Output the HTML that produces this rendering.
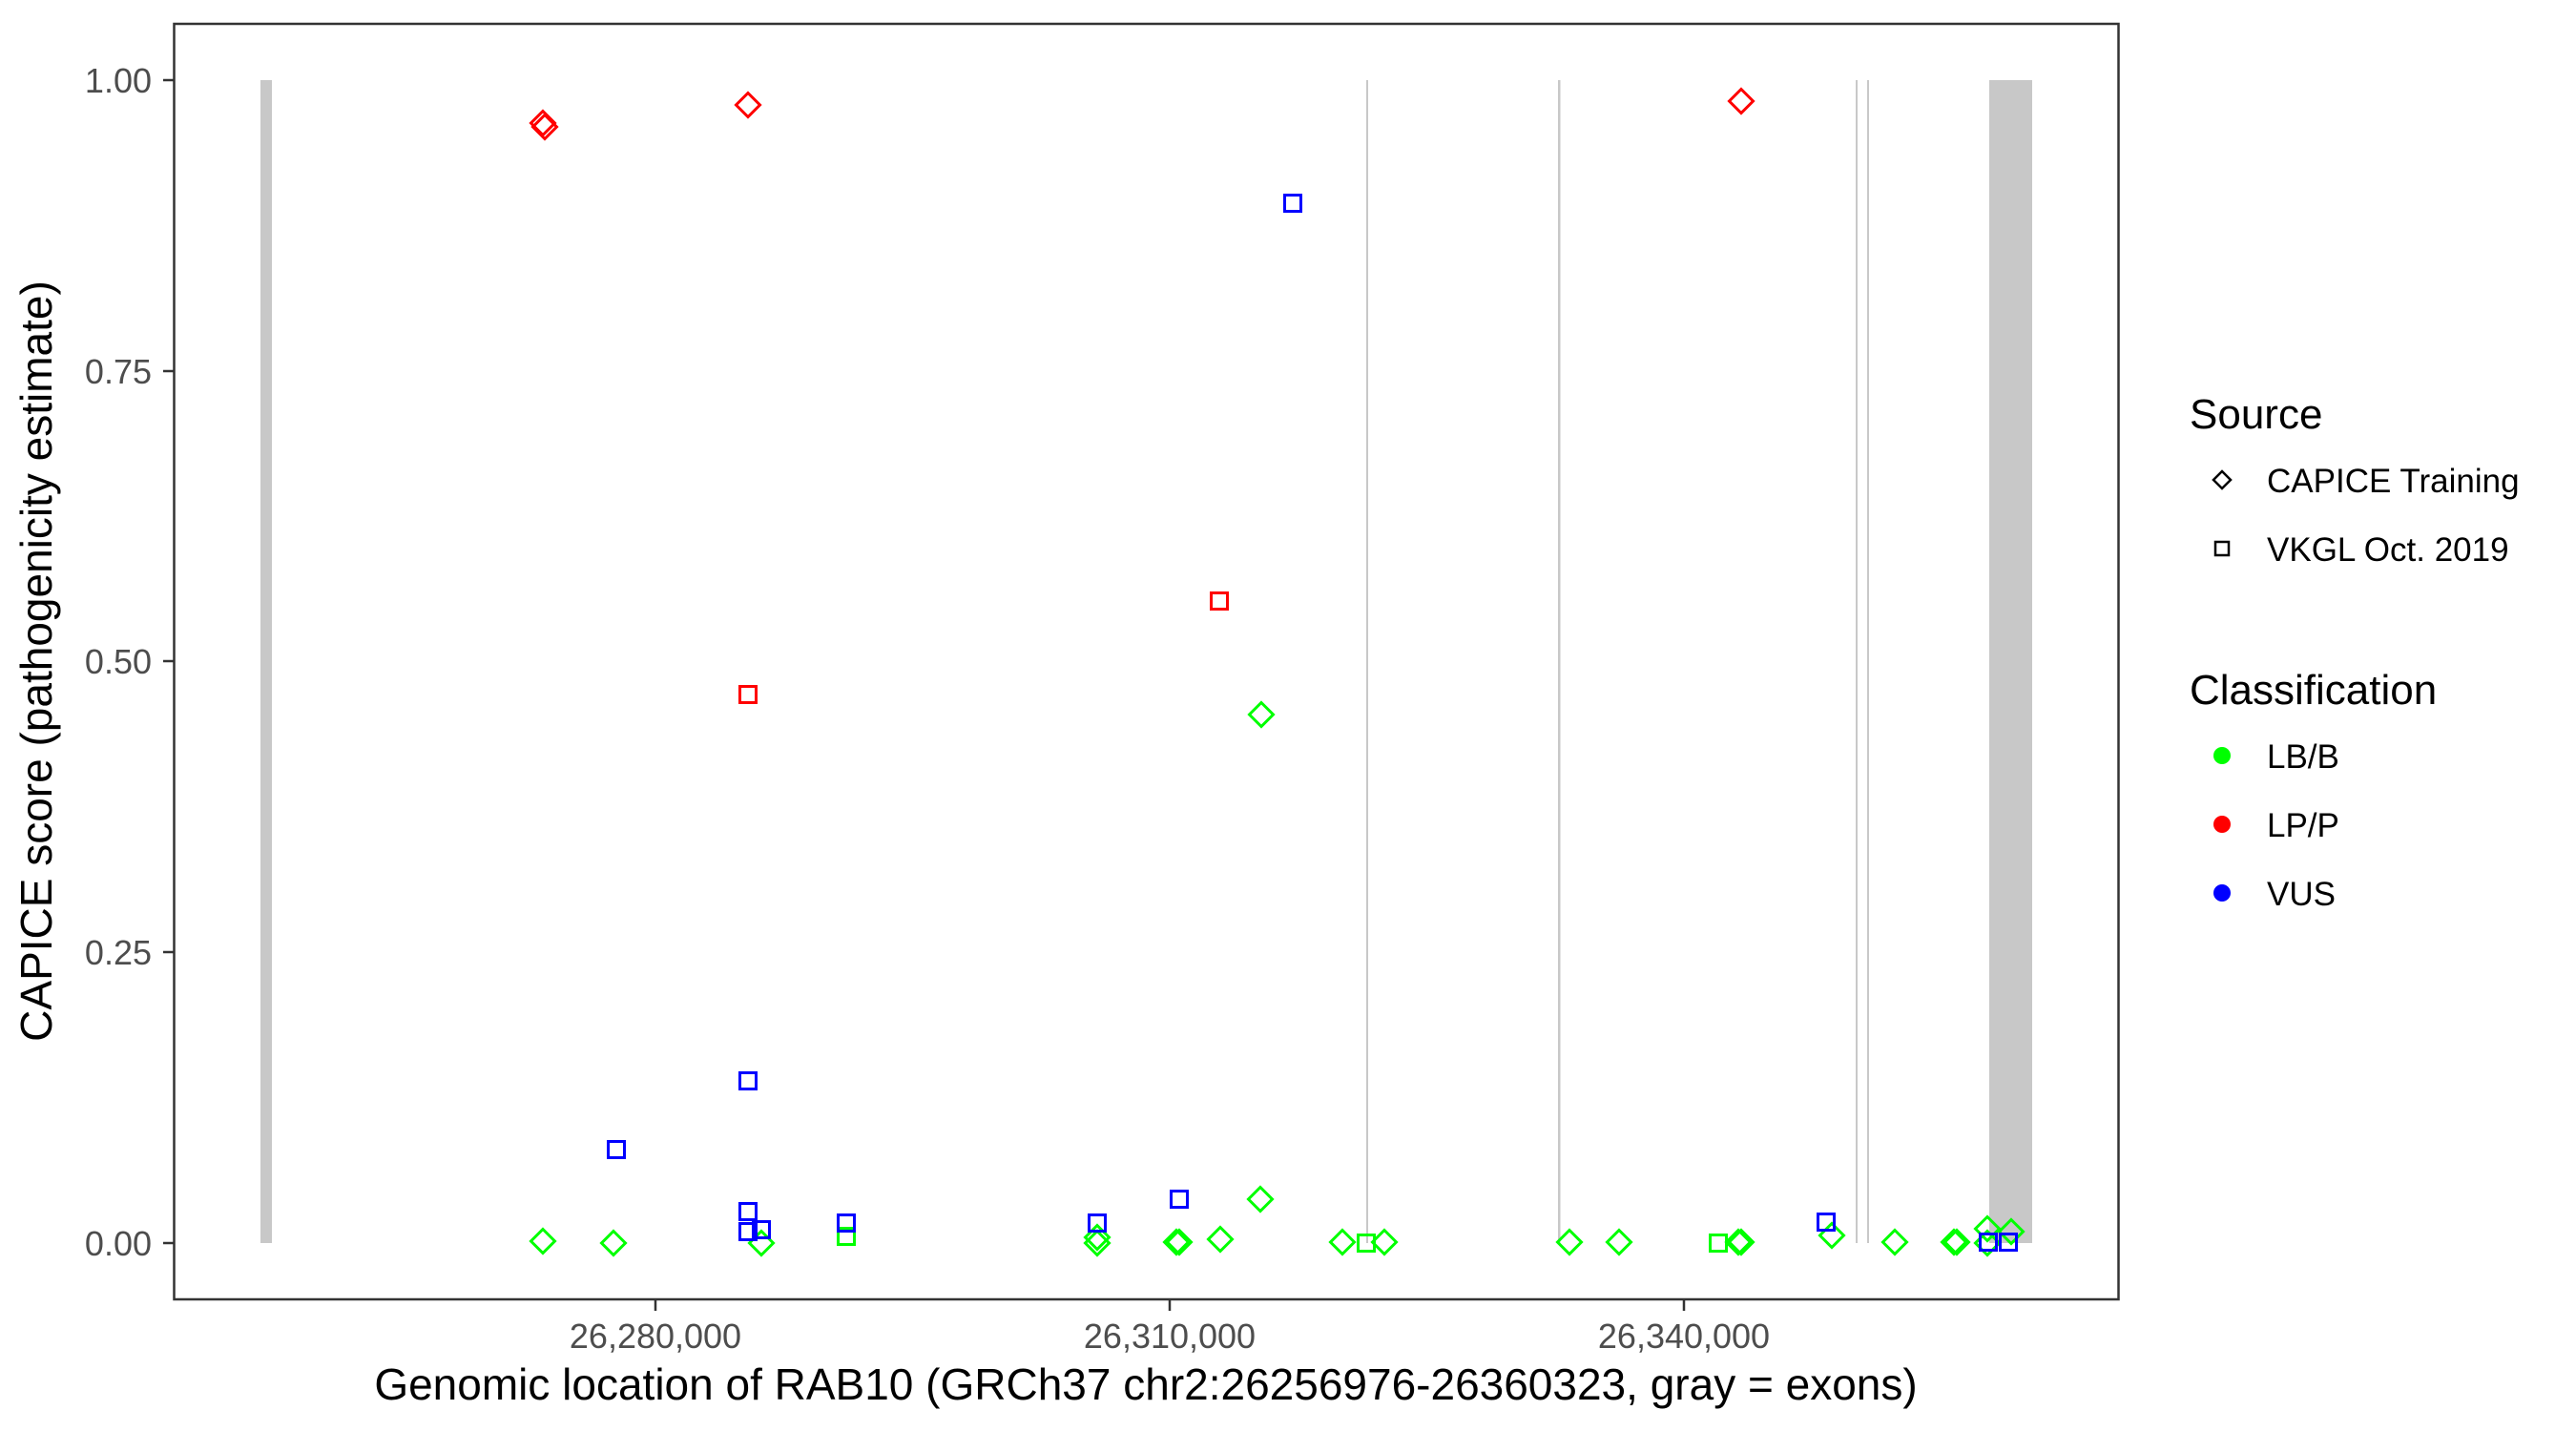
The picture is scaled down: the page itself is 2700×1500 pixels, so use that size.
<!DOCTYPE html>
<html><head><meta charset="utf-8"><style>html,body{margin:0;padding:0;background:#fff}svg{display:block}</style></head>
<body>
<svg width="2700" height="1500" viewBox="0 0 2700 1500" xmlns="http://www.w3.org/2000/svg" font-family="Liberation Sans, sans-serif">
<rect width="2700" height="1500" fill="#fff"/>
<defs>
<path id="d" d="M0,-12.5 L12.5,0 L0,12.5 L-12.5,0 Z" fill="none" stroke-width="3"/>
<rect id="s" x="-8.5" y="-8.5" width="17" height="17" fill="none" stroke-width="3"/>
</defs>
<g fill="#c8c8c8">
<rect x="273" y="84" width="12" height="1219"/>
<rect x="1432" y="84" width="2" height="1219"/>
<rect x="1633" y="84" width="2.5" height="1219"/>
<rect x="1945" y="84" width="2" height="1219"/>
<rect x="1957" y="84" width="2" height="1219"/>
<rect x="2085" y="84" width="45" height="1219"/>
</g>
<g stroke="#00ff00">
<use href="#d" x="569" y="1301"/><use href="#d" x="643" y="1303"/><use href="#d" x="798" y="1303"/>
<use href="#d" x="1150" y="1297"/><use href="#d" x="1150" y="1303"/>
<use href="#d" x="1233" y="1302"/><use href="#d" x="1236" y="1302"/>
<use href="#d" x="1279" y="1299"/><use href="#d" x="1321" y="1257"/><use href="#d" x="1322" y="749"/>
<use href="#d" x="1407" y="1302"/><use href="#d" x="1451" y="1302"/>
<use href="#d" x="1645" y="1302"/><use href="#d" x="1697" y="1302"/>
<use href="#d" x="1822" y="1302"/><use href="#d" x="1825" y="1302"/>
<use href="#d" x="1920" y="1295"/><use href="#d" x="1986" y="1302"/>
<use href="#d" x="2048" y="1302"/><use href="#d" x="2051" y="1302"/>
<use href="#d" x="2083" y="1288"/><use href="#d" x="2083" y="1303"/><use href="#d" x="2108" y="1291"/>
<use href="#s" x="887" y="1296"/><use href="#s" x="1432" y="1303"/><use href="#s" x="1801" y="1303"/>
</g>
<g stroke="#ff0000">
<use href="#d" x="569" y="129"/><use href="#d" x="571" y="133"/><use href="#d" x="784" y="110"/><use href="#d" x="1825" y="106"/>
<use href="#s" x="784" y="728"/><use href="#s" x="1278" y="630"/>
</g>
<g stroke="#0000ff">
<use href="#s" x="1355" y="213"/><use href="#s" x="784" y="1133"/><use href="#s" x="646" y="1205"/>
<use href="#s" x="784" y="1270"/><use href="#s" x="784" y="1291"/><use href="#s" x="798" y="1289"/>
<use href="#s" x="887" y="1282"/><use href="#s" x="1150" y="1282"/><use href="#s" x="1236" y="1257"/>
<use href="#s" x="1914" y="1281"/><use href="#s" x="2084" y="1302"/><use href="#s" x="2105" y="1302"/>
</g>
<rect x="182.5" y="25" width="2038" height="1337" fill="none" stroke="#333" stroke-width="2.5"/>
<g stroke="#333" stroke-width="2.5">
<line x1="171" y1="84" x2="182" y2="84"/><line x1="171" y1="389" x2="182" y2="389"/>
<line x1="171" y1="693" x2="182" y2="693"/><line x1="171" y1="998" x2="182" y2="998"/>
<line x1="171" y1="1303" x2="182" y2="1303"/>
<line x1="687" y1="1363" x2="687" y2="1374"/><line x1="1226" y1="1363" x2="1226" y2="1374"/><line x1="1765" y1="1363" x2="1765" y2="1374"/>
</g>
<g fill="#4d4d4d" font-size="36" text-anchor="end">
<text x="159" y="97">1.00</text><text x="159" y="402">0.75</text><text x="159" y="706">0.50</text>
<text x="159" y="1011">0.25</text><text x="159" y="1316">0.00</text>
</g>
<g fill="#4d4d4d" font-size="36" text-anchor="middle">
<text x="687" y="1413">26,280,000</text><text x="1226" y="1413">26,310,000</text><text x="1765" y="1413">26,340,000</text>
</g>
<text x="1201" y="1467" font-size="46" text-anchor="middle" fill="#000">Genomic location of RAB10 (GRCh37 chr2:26256976-26360323, gray = exons)</text>
<text transform="translate(54,693) rotate(-90)" font-size="46" text-anchor="middle" fill="#000">CAPICE score (pathogenicity estimate)</text>
<text x="2295" y="449" font-size="44" fill="#000">Source</text>
<path d="M2329,494 L2338,503 L2329,512 L2320,503 Z" fill="none" stroke="#000" stroke-width="2.5"/>
<rect x="2322" y="568" width="14" height="14" fill="none" stroke="#000" stroke-width="2.5"/>
<text x="2376" y="516" font-size="35" fill="#000">CAPICE Training</text>
<text x="2376" y="588" font-size="35" fill="#000">VKGL Oct. 2019</text>
<text x="2295" y="738" font-size="44" fill="#000">Classification</text>
<circle cx="2329" cy="792" r="9" fill="#00ff00"/>
<circle cx="2329" cy="864" r="9" fill="#ff0000"/>
<circle cx="2329" cy="936" r="9" fill="#0000ff"/>
<text x="2376" y="805" font-size="35" fill="#000">LB/B</text>
<text x="2376" y="877" font-size="35" fill="#000">LP/P</text>
<text x="2376" y="949" font-size="35" fill="#000">VUS</text>
</svg>
</body></html>
